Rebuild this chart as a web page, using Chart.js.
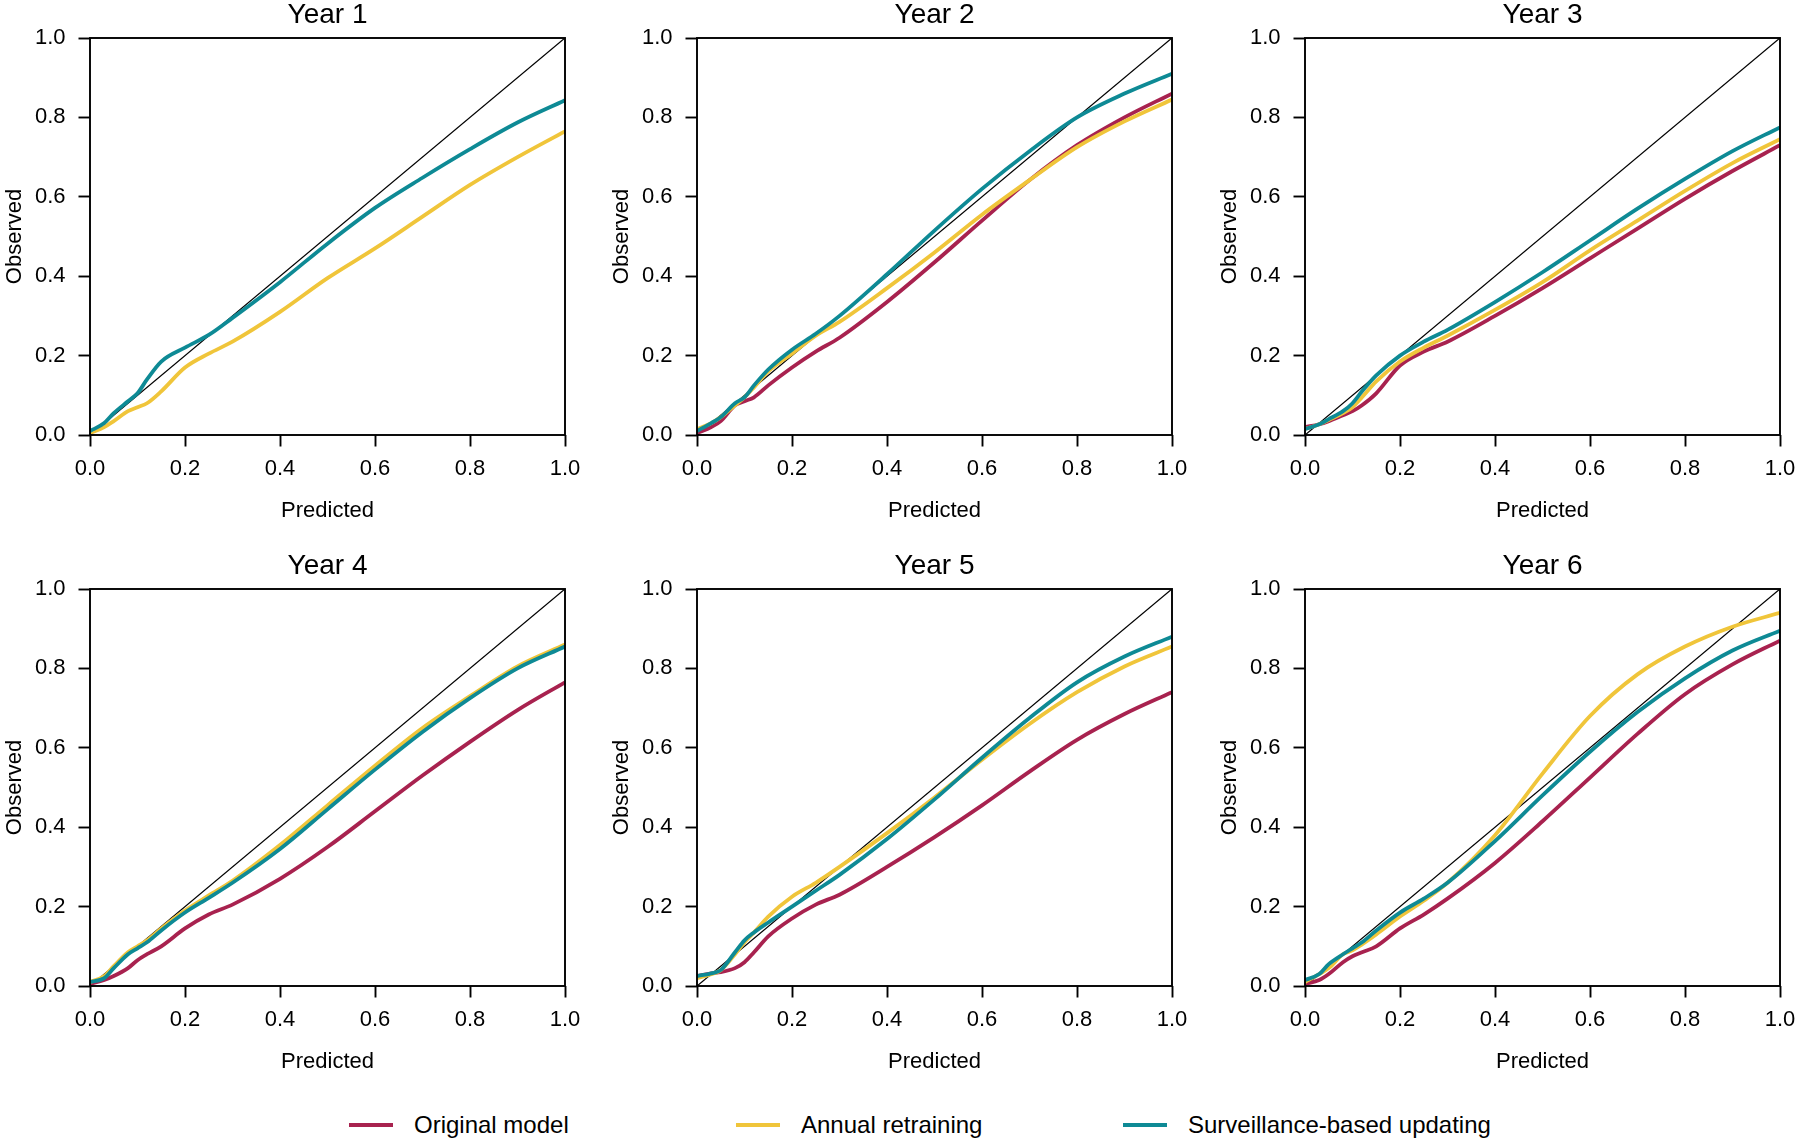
<!DOCTYPE html>
<html>
<head>
<meta charset="utf-8">
<script src="https://cdn.jsdelivr.net/npm/chart.js@4.4.1/dist/chart.umd.min.js"></script>
<style>
  html, body { margin: 0; padding: 0; background: #fff; }
  body { width: 1800px; height: 1142px; position: relative; overflow: hidden;
         font-family: "Liberation Sans", Arial, sans-serif; }
  canvas { position: absolute; }
  .key { position: absolute; top: 1110px; height: 30px; display: flex; align-items: center;
         font-size: 24px; color: #000; white-space: nowrap; }
  .key i { display: inline-block; width: 44px; height: 3.6px; margin-right: 21px; }
</style>
</head>
<body>
<div class="key" style="left:349px"><i style="background:#a8224f"></i>Original model</div>
<div class="key" style="left:736px"><i style="background:#f0c53a"></i>Annual retraining</div>
<div class="key" style="left:1123px"><i style="background:#0e8a95"></i>Surveillance-based updating</div>
<script>
const predicted = [0, 0.03, 0.05, 0.08, 0.1, 0.12, 0.15, 0.2, 0.25, 0.3, 0.4, 0.5, 0.6, 0.7, 0.8, 0.9, 1.0];
const years = ['Year 1', 'Year 2', 'Year 3', 'Year 4', 'Year 5', 'Year 6'];
const tickValues = [0, 0.2, 0.4, 0.6, 0.8, 1.0];

// observed proportion at each predicted value, one row per year
const originalModel = [
    null,
    [0.005, 0.02, 0.035, 0.075, 0.085, 0.095, 0.125, 0.17, 0.21, 0.245, 0.335, 0.435, 0.54, 0.642, 0.73, 0.80, 0.86],
    [0.02, 0.027, 0.035, 0.05, 0.06, 0.075, 0.105, 0.175, 0.21, 0.235, 0.30, 0.37, 0.445, 0.52, 0.595, 0.665, 0.73],
    [0.005, 0.015, 0.025, 0.045, 0.065, 0.08, 0.10, 0.145, 0.18, 0.205, 0.27, 0.35, 0.44, 0.53, 0.615, 0.695, 0.765],
    [0.025, 0.032, 0.035, 0.045, 0.06, 0.085, 0.125, 0.17, 0.205, 0.23, 0.30, 0.375, 0.455, 0.54, 0.62, 0.685, 0.74],
    [0.005, 0.015, 0.03, 0.06, 0.075, 0.085, 0.10, 0.145, 0.18, 0.22, 0.31, 0.415, 0.525, 0.635, 0.735, 0.81, 0.87]
];
const annualRetraining = [
    [0.005, 0.02, 0.035, 0.06, 0.07, 0.08, 0.11, 0.17, 0.205, 0.235, 0.31, 0.395, 0.47, 0.55, 0.63, 0.70, 0.765],
    [0.015, 0.03, 0.045, 0.075, 0.095, 0.12, 0.16, 0.205, 0.25, 0.285, 0.37, 0.46, 0.555, 0.642, 0.725, 0.79, 0.845],
    [0.015, 0.027, 0.038, 0.055, 0.07, 0.095, 0.135, 0.185, 0.22, 0.25, 0.315, 0.385, 0.465, 0.54, 0.615, 0.685, 0.745],
    [0.01, 0.025, 0.05, 0.085, 0.10, 0.115, 0.145, 0.19, 0.228, 0.265, 0.355, 0.455, 0.555, 0.65, 0.73, 0.805, 0.86],
    [0.02, 0.03, 0.04, 0.08, 0.11, 0.135, 0.175, 0.225, 0.26, 0.30, 0.385, 0.475, 0.57, 0.66, 0.74, 0.805, 0.855],
    [0.01, 0.03, 0.045, 0.08, 0.09, 0.105, 0.13, 0.175, 0.215, 0.26, 0.38, 0.535, 0.68, 0.785, 0.855, 0.905, 0.94]
];
const surveillanceUpdating = [
    [0.01, 0.03, 0.055, 0.085, 0.105, 0.14, 0.185, 0.22, 0.252, 0.295, 0.385, 0.482, 0.572, 0.648, 0.72, 0.787, 0.843],
    [0.01, 0.03, 0.045, 0.08, 0.095, 0.125, 0.165, 0.215, 0.255, 0.30, 0.405, 0.515, 0.62, 0.715, 0.80, 0.86, 0.91],
    [0.015, 0.027, 0.04, 0.06, 0.08, 0.11, 0.15, 0.20, 0.235, 0.265, 0.335, 0.41, 0.49, 0.57, 0.645, 0.715, 0.775],
    [0.01, 0.02, 0.045, 0.08, 0.095, 0.11, 0.14, 0.185, 0.222, 0.26, 0.345, 0.445, 0.545, 0.64, 0.725, 0.80, 0.855],
    [0.025, 0.032, 0.04, 0.085, 0.115, 0.135, 0.16, 0.20, 0.24, 0.28, 0.37, 0.47, 0.575, 0.675, 0.765, 0.83, 0.88],
    [0.015, 0.03, 0.055, 0.08, 0.095, 0.11, 0.14, 0.185, 0.22, 0.26, 0.365, 0.48, 0.59, 0.69, 0.775, 0.845, 0.895]
];

const colours = { original: '#a8224f', annual: '#f0c53a', surveillance: '#0e8a95' };
const fontFamily = '"Liberation Sans", Arial, sans-serif';

const plotLefts = [90, 697, 1305];
const plotTops = [38, 589];
const plotW = 475, plotH = 397;
const yAxisW = 88, xAxisH = 92, titleH = 37, titleSize = 28;

// R style box round the plot region
const boxPlugin = {
    id: 'box',
    afterDraw(chart) {
        const a = chart.chartArea;
        const ctx = chart.ctx;
        ctx.save();
        ctx.strokeStyle = '#000';
        ctx.lineWidth = 1.9;
        ctx.strokeRect(a.left, a.top, a.right - a.left, a.bottom - a.top);
        ctx.restore();
    }
};

function pairs(values) {
    return predicted.map((x, i) => ({ x: x, y: values[i] }));
}

function curve(label, values, colour) {
    return {
        label: label,
        data: pairs(values),
        borderColor: colour,
        borderWidth: 3.8,
        pointRadius: 0,
        cubicInterpolationMode: 'monotone',
        fill: false
    };
}

function axis(title, isX) {
    return {
        type: 'linear',
        min: 0,
        max: 1,
        afterFit: function (scale) {
            if (isX) scale.height = xAxisH; else scale.width = yAxisW;
        },
        afterBuildTicks: function (scale) {
            scale.ticks = tickValues.map(v => ({ value: v }));
        },
        border: { display: false },
        grid: {
            drawOnChartArea: false,
            drawTicks: true,
            tickLength: 11.5,
            tickWidth: 1.9,
            tickColor: '#000'
        },
        ticks: {
            color: '#000',
            padding: isX ? 9 : 13,
            maxRotation: 0,
            autoSkip: false,
            font: { family: fontFamily, size: 22 },
            callback: v => v.toFixed(1)
        },
        title: {
            display: true,
            text: title,
            color: '#000',
            font: { family: fontFamily, size: 22, lineHeight: 1.2 },
            padding: isX ? { top: 0, bottom: 3 } : { top: 0, bottom: 0 }
        }
    };
}

years.forEach((year, k) => {
    const col = k % 3, row = Math.floor(k / 3);
    const canvas = document.createElement('canvas');
    canvas.width = yAxisW + plotW + yAxisW;
    canvas.height = titleH + plotH + xAxisH;
    canvas.style.left = (plotLefts[col] - yAxisW) + 'px';
    canvas.style.top = (plotTops[row] - titleH) + 'px';
    document.body.appendChild(canvas);

    const datasets = [
        curve('Surveillance-based updating', surveillanceUpdating[k], colours.surveillance),
        curve('Annual retraining', annualRetraining[k], colours.annual)
    ];
    if (originalModel[k]) {
        datasets.push(curve('Original model', originalModel[k], colours.original));
    }
    datasets.push({
        label: 'Perfect calibration',
        data: [{ x: 0, y: 0 }, { x: 1, y: 1 }],
        borderColor: '#000',
        borderWidth: 1.3,
        pointRadius: 0
    });

    new Chart(canvas, {
        type: 'scatter',
        data: { datasets: datasets },
        options: {
            responsive: false,
            animation: false,
            events: [],
            showLine: true,
            layout: { padding: 0 },
            scales: {
                x: axis('Predicted', true),
                y: axis('Observed', false),
                // empty right margin so the title centres over the plot
                spacer: {
                    type: 'linear',
                    position: 'right',
                    display: true,
                    afterFit: function (scale) { scale.width = yAxisW; },
                    grid: { display: false },
                    border: { display: false },
                    ticks: { display: false }
                }
            },
            plugins: {
                legend: { display: false },
                tooltip: { enabled: false },
                title: {
                    display: true,
                    text: year,
                    color: '#000',
                    font: { family: fontFamily, size: titleSize, weight: 'normal', lineHeight: 1.0 },
                    padding: { top: 0, bottom: titleH - titleSize }
                }
            }
        },
        plugins: [boxPlugin]
    });
});
</script>
</body>
</html>
